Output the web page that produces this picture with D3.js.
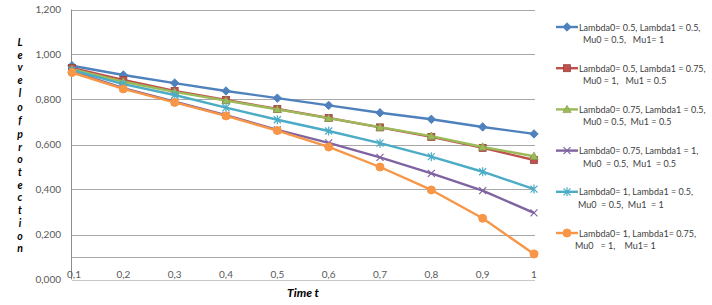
<!DOCTYPE html>
<html><head><meta charset="utf-8">
<script src="https://cdn.jsdelivr.net/npm/d3@7"></script>
<style>
html,body{margin:0;padding:0;background:#fff;}
svg{display:block;}
text{white-space:pre;}
</style></head>
<body>
<svg id="c" width="712" height="305"></svg>
<script>
const times = [0.1,0.2,0.3,0.4,0.5,0.6,0.7,0.8,0.9,1.0];
const xTickLabels = ["0,1","0,2","0,3","0,4","0,5","0,6","0,7","0,8","0,9","1"];
const yTicks = [0,0.2,0.4,0.6,0.8,1.0,1.2];
const yTickLabels = ["0,000","0,200","0,400","0,600","0,800","1,000","1,200"];
const axisCross = 0.1;

const s1 = [0.950,0.909,0.873,0.838,0.806,0.774,0.741,0.712,0.678,0.647];
const s2 = [0.940,0.887,0.838,0.798,0.758,0.718,0.676,0.634,0.585,0.531];
const s3 = [0.935,0.879,0.834,0.795,0.756,0.717,0.677,0.637,0.589,0.548];
const s4 = [0.925,0.850,0.790,0.730,0.665,0.607,0.543,0.472,0.395,0.296];
const s5 = [0.930,0.868,0.820,0.764,0.710,0.660,0.606,0.546,0.479,0.402];
const s6 = [0.920,0.847,0.787,0.727,0.662,0.589,0.500,0.398,0.272,0.113];

const legendLine1 = ["Lambda0= 0.5, Lambda1 = 0.5,","Lambda0= 0.5, Lambda1 = 0.75,","Lambda0= 0.75, Lambda1 = 0.5,","Lambda0= 0.75, Lambda1 = 1,","Lambda0= 1, Lambda1 = 0.5,","Lambda0= 1, Lambda1= 0.75,"];
const legendLine2 = ["Mu0 = 0.5,   Mu1= 1","Mu0 = 1,   Mu1 = 0.5","Mu0 = 0.5,  Mu1 = 0.5","Mu0  = 0.5,  Mu1  = 0.5","Mu0  = 0.5,  Mu1  = 1","Mu0   = 1,    Mu1= 1"];
const colors = ["#4F81BD","#C0504D","#9BBB59","#8064A2","#4BACC6","#F79646"];
const markerKinds = ["diamond","square","triangle","x","star","circle"];
const seriesValues = [s1,s2,s3,s4,s5,s6];

const svg = d3.select("#c");
const x = d3.scaleLinear().domain([0.1,1]).range([72,534]);
const y = d3.scaleLinear().domain([0,1.2]).range([279.5,9.5]);

// gridlines
const grid = svg.append("g");
grid.selectAll("line.g").data(yTicks.concat([axisCross])).enter().append("line")
  .attr("x1",72).attr("x2",535)
  .attr("y1",d=>Math.round(y(d))+0.5).attr("y2",d=>Math.round(y(d))+0.5)
  .attr("stroke",d=>d===0?"#c8c8c8":"#a8a8a8").attr("stroke-width",1);
// vertical axis
svg.append("line").attr("x1",71.5).attr("x2",71.5).attr("y1",y(1.2)).attr("y2",y(0))
  .attr("stroke","#8c8c8c").attr("stroke-width",1);

// y tick labels
svg.append("g").selectAll("text").data(yTicks).enter().append("text")
  .attr("x",61).attr("y",d=>y(d)+3.5).attr("text-anchor","end")
  .attr("font-family","Lato, 'Open Sans', sans-serif").attr("font-size",10).attr("fill","#595959")
  .text((d,i)=>yTickLabels[i]);

// x tick labels
svg.append("g").selectAll("text").data(times).enter().append("text")
  .attr("x",(d,i)=>x(d)+(i===0?2:0)).attr("y",278).attr("text-anchor","middle")
  .attr("font-family","Lato, 'Open Sans', sans-serif").attr("font-size",10).attr("fill","#595959")
  .text((d,i)=>xTickLabels[i]);

// axis titles
svg.append("text").attr("x",303).attr("y",297).attr("text-anchor","middle")
  .attr("font-family","Lato, 'Open Sans', sans-serif").attr("font-size",12).attr("font-weight","bold")
  .attr("font-style","italic").attr("fill","#000").text("Time t");
const yTitle = "Level of protection";
let yy = 42;
const yt = svg.append("g");
for (const ch of yTitle) {
  if (ch === " ") { yy += 1.5; continue; }
  yt.append("text").attr("x",20).attr("y",yy+4)
    .attr("text-anchor","middle")
    .attr("font-family","Lato, 'Open Sans', sans-serif").attr("font-size",10.5).attr("font-weight","bold")
    .attr("font-style","italic").attr("fill","#000").text(ch);
  yy += 12.7;
}

function drawMarker(g, kind, color, cx, cy){
  const dark = d3.color(color).darker(0.6);
  if (kind==="diamond") {
    g.append("path").attr("d",`M${cx},${cy-4.2}L${cx+4.2},${cy}L${cx},${cy+4.2}L${cx-4.2},${cy}Z`).attr("fill",color).attr("stroke",color);
  } else if (kind==="square") {
    g.append("rect").attr("x",cx-3.5).attr("y",cy-3.5).attr("width",7).attr("height",7).attr("fill",color).attr("stroke",dark).attr("stroke-width",0.8);
  } else if (kind==="triangle") {
    g.append("path").attr("d",`M${cx},${cy-4.2}L${cx+4.2},${cy+3.2}L${cx-4.2},${cy+3.2}Z`).attr("fill",color).attr("stroke",dark).attr("stroke-width",0.6);
  } else if (kind==="x") {
    g.append("path").attr("d",`M${cx-3.5},${cy-3.5}L${cx+3.5},${cy+3.5}M${cx-3.5},${cy+3.5}L${cx+3.5},${cy-3.5}`).attr("stroke",color).attr("stroke-width",1.2).attr("fill","none");
  } else if (kind==="star") {
    g.append("path").attr("d",`M${cx-3.5},${cy-3.5}L${cx+3.5},${cy+3.5}M${cx-3.5},${cy+3.5}L${cx+3.5},${cy-3.5}M${cx},${cy-4.5}L${cx},${cy+4.5}`).attr("stroke",color).attr("stroke-width",1.2).attr("fill","none");
  } else if (kind==="circle") {
    g.append("circle").attr("cx",cx).attr("cy",cy).attr("r",4).attr("fill",color).attr("stroke",color);
  }
}

const line = d3.line().x((d,i)=>x(times[i])).y(d=>y(d));
seriesValues.forEach((vals,si)=>{
  const g = svg.append("g");
  g.append("path").datum(vals).attr("d",line).attr("fill","none")
    .attr("stroke",colors[si]).attr("stroke-width",2.4).attr("stroke-linejoin","round");
  vals.forEach((v,i)=>drawMarker(g, markerKinds[si], colors[si], x(times[i]), y(v)));
});

// legend
const lg = svg.append("g");
const legendIndent = [6,6,6,6,1,-2];
colors.forEach((c,i)=>{
  const ly = 27 + i*41.2;
  lg.append("line").attr("x1",556).attr("x2",578).attr("y1",ly).attr("y2",ly).attr("stroke",c).attr("stroke-width",2.4);
  drawMarker(lg, markerKinds[i], c, 567, ly);
  lg.append("text").attr("x",579).attr("y",ly+3.5)
    .attr("font-family","Lato, 'Open Sans', sans-serif").attr("font-size",9).attr("fill","#404040")
    .text(legendLine1[i]);
  lg.append("text").attr("x",577+legendIndent[i]).attr("y",ly+16)
    .attr("font-family","Lato, 'Open Sans', sans-serif").attr("font-size",9).attr("fill","#404040")
    .text(legendLine2[i]);
});
</script>
</body></html>
